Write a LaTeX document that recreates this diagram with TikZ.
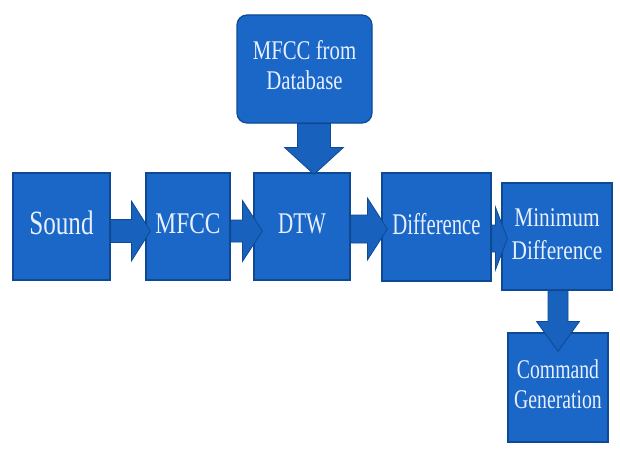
\documentclass[tikz,border=0pt]{standalone}
\usepackage{fontspec}
\setmainfont{Liberation Serif}
\usepackage{graphicx}
\usetikzlibrary{calc}
\definecolor{boxblue}{HTML}{1A67C7}
\definecolor{edgeblue}{HTML}{0E4A94}
\definecolor{arrowblue}{HTML}{1862BD}
\definecolor{txtcol}{HTML}{E8F0FF}
\newcommand\lbl[4]{\scalebox{#1}[1]{\fontsize{#2}{#3}\selectfont\begin{tabular}{@{}c@{}}#4\end{tabular}}}
% horizontal block arrow: from, to, centre Y, shaft half, head half, base offset, tip offset
\newcommand\harrow[7]{%
  \draw[blkarrow] let \p1=(#1.east), \p2=(#2.west) in
    (\x1,#3pt+#4pt) -- (\x2-#6pt,#3pt+#4pt) -- (\x2-#6pt,#3pt+#5pt) -- (\x2+#7pt,#3pt)
    -- (\x2-#6pt,#3pt-#5pt) -- (\x2-#6pt,#3pt-#4pt) -- (\x1,#3pt-#4pt) -- cycle;}
% vertical block arrow: from, to, centre X, shaft half, head half, base offset, tip offset
\newcommand\varrow[7]{%
  \draw[blkarrow] let \p1=(#1.south), \p2=(#2.north) in
    (#3pt-#4pt,\y1) -- (#3pt-#4pt,\y2+#6pt) -- (#3pt-#5pt,\y2+#6pt) -- (#3pt,\y2-#7pt)
    -- (#3pt+#5pt,\y2+#6pt) -- (#3pt+#4pt,\y2+#6pt) -- (#3pt+#4pt,\y1) -- cycle;}
\begin{document}
\begin{tikzpicture}[x=1pt,y=1pt,
  blk/.style={rectangle, draw=edgeblue, line width=1.2pt, fill=boxblue, text=txtcol, inner sep=0pt},
  blkarrow/.style={fill=arrowblue, draw=edgeblue, line width=0.8pt, line join=miter}]
\useasboundingbox[fill=white] (0,0) rectangle (620,456);
\node[blk, minimum width=97pt, minimum height=107pt] (sound) at (61.5,229.5) {\lbl{0.74}{34}{40}{Sound}};
\node[blk, minimum width=84pt, minimum height=107pt] (mfcc) at (188,229.5) {\lbl{0.78}{30}{36}{MFCC}};
\node[blk, minimum width=96pt, minimum height=107pt] (dtw) at (302,229.5) {\lbl{0.70}{30}{36}{DTW}};
\node[blk, minimum width=109pt, minimum height=108pt] (diff) at (436.5,229) {\lbl{0.69}{30}{36}{Difference}};
\node[blk, minimum width=110pt, minimum height=107pt] (mind) at (557,219.5) {\lbl{0.79}{27}{33}{Minimum\\Difference}};
\node[blk, minimum width=100pt, minimum height=109pt] (cmd) at (558,68.5) {\lbl{0.73}{27}{30}{Command\\Generation}};
\node[blk, rounded corners=10pt, minimum width=135pt, minimum height=108pt] (db) at (304.5,387) {\lbl{0.77}{27}{30}{MFCC from\\Database}};
\harrow{sound}{mfcc}{225}{11.5}{30}{14}{5}
\harrow{mfcc}{dtw}{225}{11}{30.5}{11}{9}
\harrow{dtw}{diff}{227}{14}{31}{14}{6}
\harrow{diff}{mind}{217.5}{13.5}{31.5}{6}{6}
\varrow{mind}{cmd}{558}{10}{21.5}{11}{19}
\varrow{db}{dtw}{314}{16.5}{29.5}{25}{2}
\end{tikzpicture}
\end{document}
